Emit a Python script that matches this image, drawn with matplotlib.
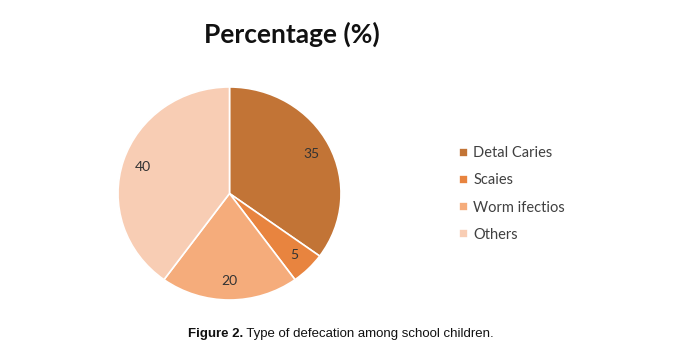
import matplotlib.pyplot as plt

# data
labels = ['Detal Caries', 'Scaies', 'Worm ifectios', 'Others']
values = [35, 5, 20, 40]
colors = ['#C27436', '#E8843F', '#F5AC7B', '#F8CDB4']

fig = plt.figure(figsize=(6.79, 3.62), dpi=100)
fig.patch.set_facecolor('white')

# pie is slightly squashed in the reference, so aspect stays auto
ax = fig.add_axes([0.1738, 0.1713, 0.3284, 0.5884])
wedges, texts, autotexts = ax.pie(values, colors=colors, startangle=90, counterclock=False,
                                  autopct=lambda p: f'{p:.0f}', pctdistance=0.82,
                                  wedgeprops={'edgecolor': 'white', 'linewidth': 1.2},
                                  textprops={'fontsize': 10, 'color': '#333333', 'family': 'Lato'})
ax.set_xlim(-1, 1)
ax.set_ylim(-1, 1)
ax.set_aspect('auto')

fig.text(0.43, 0.905, 'Percentage (%)', ha='center', va='center',
         fontsize=19, fontweight='bold', family='Lato', color='#111111')

leg = fig.legend(wedges, labels, loc='upper left', bbox_to_anchor=(0.657, 0.632),
                 frameon=False, handlelength=0.6, handleheight=0.6, handletextpad=0.35,
                 labelspacing=0.9, prop={'family': 'Lato', 'size': 10.5})
for t in leg.get_texts():
    t.set_color('#404040')

# caption
cap_font = ['Liberation Sans', 'DejaVu Sans']
t1 = fig.text(0.277, 0.077, 'Figure 2.', ha='left', va='center', fontsize=9.5,
              fontweight='bold', family=cap_font, color='#111111')
ax.annotate(' Type of defecation among school children.', xy=(1, 0.5), xycoords=t1,
            ha='left', va='center', fontsize=9.5, family=cap_font, color='#111111')

fig.savefig('out.png', dpi=100)
